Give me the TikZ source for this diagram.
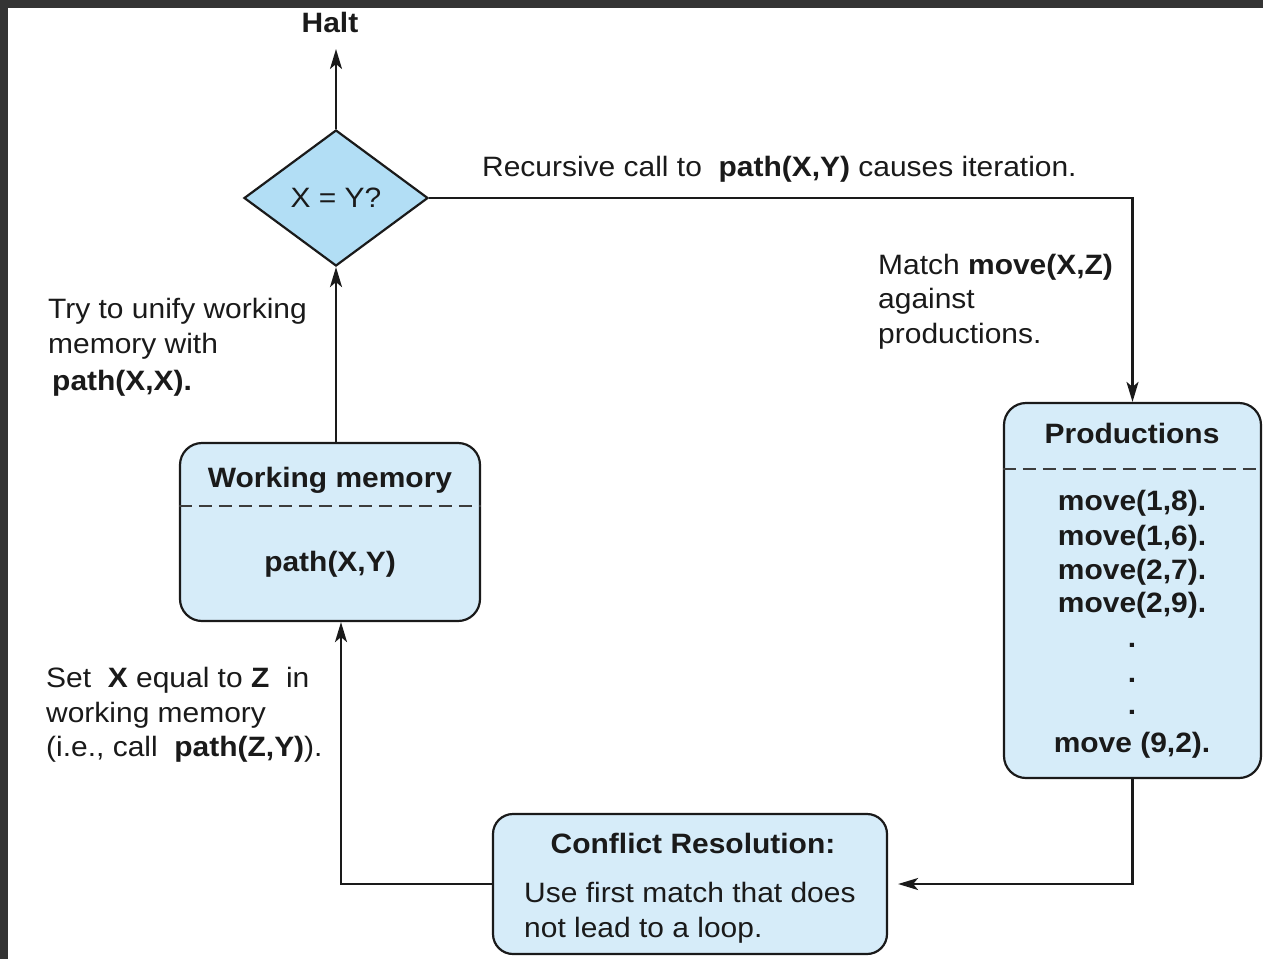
\documentclass[tikz,border=0pt]{standalone}
\usepackage{fontspec}
\setmainfont{Liberation Sans}[FakeStretch=1.07]
\usetikzlibrary{shapes.geometric,arrows.meta}
\definecolor{frame}{HTML}{343434}
\definecolor{ink}{HTML}{1A1A1A}
\definecolor{decfill}{RGB}{178,222,245}
\definecolor{boxfill}{RGB}{214,236,249}
\begin{document}
\begin{tikzpicture}[x=1pt,y=-1pt,
  every node/.style={font=\fontsize{28}{35}\selectfont, text=ink, inner sep=0pt},
  bold/.style={font=\fontsize{28}{35}\selectfont\bfseries},
  panel/.style={draw=ink, line width=2.2pt, fill=boxfill, rounded corners=22pt},
  decision/.style={diamond, draw=ink, line width=2.2pt, fill=decfill,
    minimum width=184pt, minimum height=136pt},
  wire/.style={draw=ink, line width=2.2pt},
  flow/.style={wire, -{Stealth[length=20pt,width=12pt,inset=5pt]}},
  divider/.style={draw=ink!85, line width=2pt, dash pattern=on 13pt off 7pt},
  txt/.style={anchor=base west},
  ctr/.style={anchor=base},
]
\useasboundingbox (0,0) rectangle (1263,959);
% frame and page
\fill[frame] (0,0) rectangle (1263,959);
\fill[white] (8,8) rectangle (1263,959);

% decision and halt
\node[decision] (dec) at (336,198) {X = Y?};
\node[ctr, bold] (halt) at (330,32) {Halt};
\coordinate (haltin) at (336,49);

% working memory
\node[panel, minimum width=300pt, minimum height=178pt] (wm) at (330,532) {};
\node[ctr, bold] (wmt) at (330,487) {Working memory};
\draw[divider] (wm.west |- 0,506) -- (wm.east |- 0,506);
\node[ctr, bold] (wmc) at (330,571) {path(X,Y)};

% productions
\node[panel, minimum width=257pt, minimum height=375pt] (prod) at (1132.5,590.5) {};
\node[ctr, bold] (prodt) at (1132,443) {Productions};
\draw[divider] (prod.west |- 0,469) -- (prod.east |- 0,469);
\node[ctr, bold] (p1) at (1132,510) {move(1,8).};
\node[ctr, bold] (p2) at (1132,545) {move(1,6).};
\node[ctr, bold] (p3) at (1132,579) {move(2,7).};
\node[ctr, bold] (p4) at (1132,612) {move(2,9).};
\node[ctr, bold] (d1) at (1132,647) {.};
\node[ctr, bold] (d2) at (1132,682) {.};
\node[ctr, bold] (d3) at (1132,714) {.};
\node[ctr, bold] (p5) at (1132,752) {move (9,2).};

% conflict resolution
\node[panel, rounded corners=20pt, minimum width=394pt, minimum height=140pt] (cr) at (690,884) {};
\node[ctr, bold] (crt) at (693,853) {Conflict Resolution:};
\node[txt] (cr1) at (524,902) {Use first match that does};
\node[txt] (cr2) at (524,937) {not lead to a loop.};

% connectors
\draw[flow] (dec.north) -- (haltin);
\draw[flow] (dec.east) -| (prod.north);
\draw[flow, shorten >=10pt] (prod.south) |- (cr.east);
\draw[flow] (cr.west) -| ([xshift=11pt]wm.south);
\draw[flow] (wm.north -| dec.south) -- (dec.south);

% annotations
\node[txt] (rec) at (482,176) {Recursive call to\ \ \textbf{path(X,Y)} causes iteration.};
\node[txt] (m1) at (878,274) {Match \textbf{move(X,Z)}};
\node[txt] (m2) at (878,308) {against};
\node[txt] (m3) at (878,343) {productions.};
\node[txt] (u1) at (48,318) {Try to unify working};
\node[txt] (u2) at (48,353) {memory with};
\node[txt] (u3) at (52,390) {\textbf{path(X,X).}};
\node[txt] (s1) at (46,687) {Set\ \ \textbf{X} equal to\ \textbf{Z}\ \ in};
\node[txt] (s2) at (46,722) {working memory};
\node[txt] (s3) at (46,756) {(i.e., call\ \ \textbf{path(Z,Y)}).};
\end{tikzpicture}
\end{document}
